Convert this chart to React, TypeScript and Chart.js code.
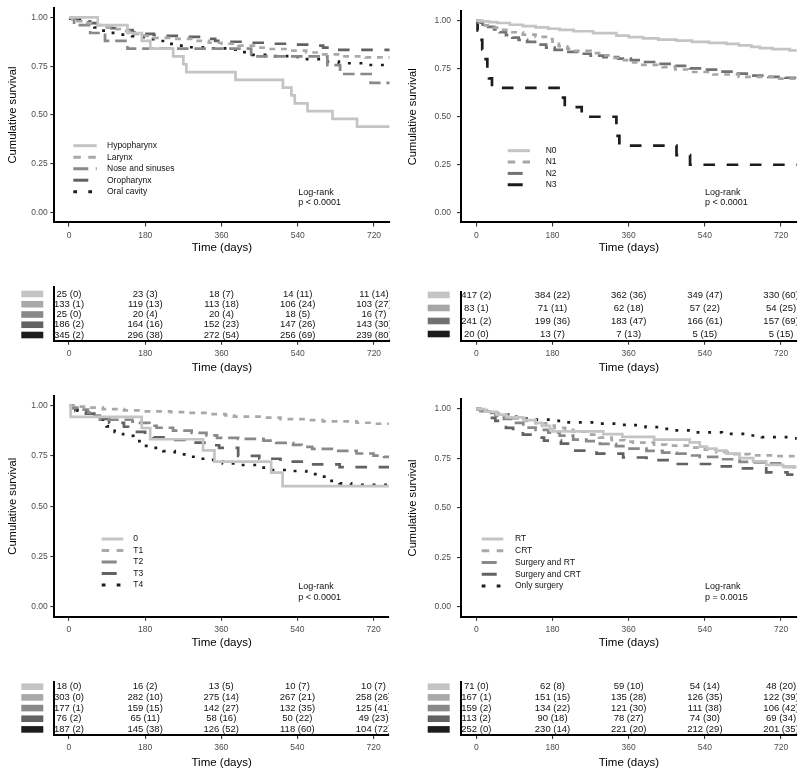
import React, { useEffect, useRef } from "react";
import { Chart, registerables } from "chart.js";
Chart.register(...registerables);

const FONT = '"Liberation Sans", Arial, Helvetica, sans-serif';
Chart.defaults.font.family = FONT;

// ---------- shared axes ----------
const timeTicks = [0, 180, 360, 540, 720];
const survivalTicks = [0, 0.25, 0.5, 0.75, 1];

// ---------- Panel 1: tumour site ----------
const siteLabels = ["Hypopharynx", "Larynx", "Nose and sinuses", "Oropharynx", "Oral cavity"];
const hypopharynx = [[0, 1], [68, 0.96], [138, 0.92], [172, 0.88], [192, 0.84], [246, 0.8], [270, 0.76], [277, 0.72], [393, 0.68], [505, 0.64], [525, 0.6], [533, 0.56], [563, 0.52], [622, 0.48], [680, 0.44], [770, 0.44]];
const larynx = [[0, 1], [8, 0.99], [20, 0.98], [40, 0.97], [60, 0.96], [80, 0.95], [100, 0.94], [120, 0.93], [150, 0.915], [175, 0.905], [200, 0.895], [250, 0.89], [300, 0.88], [330, 0.87], [360, 0.865], [400, 0.855], [440, 0.845], [470, 0.838], [520, 0.83], [560, 0.82], [600, 0.81], [640, 0.8], [700, 0.795], [770, 0.795]];
const noseSinuses = [[0, 1], [12, 0.96], [50, 0.92], [85, 0.88], [138, 0.84], [430, 0.8], [610, 0.755], [640, 0.71], [712, 0.665], [770, 0.665]];
const oropharynx = [[0, 1], [8, 0.995], [20, 0.99], [35, 0.98], [50, 0.97], [65, 0.96], [80, 0.95], [100, 0.945], [125, 0.935], [150, 0.925], [175, 0.915], [200, 0.91], [230, 0.905], [270, 0.9], [320, 0.89], [345, 0.88], [375, 0.875], [430, 0.87], [480, 0.865], [520, 0.86], [570, 0.855], [600, 0.845], [625, 0.833], [770, 0.833]];
const oralCavity = [[0, 1], [3, 0.995], [15, 0.988], [29, 0.979], [45, 0.965], [60, 0.948], [76, 0.932], [95, 0.921], [120, 0.912], [149, 0.904], [176, 0.889], [204, 0.879], [231, 0.864], [258, 0.855], [285, 0.847], [316, 0.841], [378, 0.835], [409, 0.822], [432, 0.808], [463, 0.802], [521, 0.797], [548, 0.786], [610, 0.773], [637, 0.765], [699, 0.756], [770, 0.756]];
const siteAtRisk = [[25, 23, 18, 14, 11], [133, 119, 113, 106, 103], [25, 20, 20, 18, 16], [186, 164, 152, 147, 143], [345, 296, 272, 256, 239]];
const siteEvents = [[0, 3, 7, 11, 14], [1, 13, 18, 24, 27], [0, 4, 4, 5, 7], [2, 16, 23, 26, 30], [2, 38, 54, 69, 80]];

// ---------- Panel 2: N stage ----------
const nLabels = ["N0", "N1", "N2", "N3"];
const n0 = [[0, 1], [15, 0.997], [30, 0.993], [50, 0.988], [79, 0.979], [110, 0.972], [140, 0.965], [170, 0.958], [197, 0.952], [230, 0.945], [276, 0.935], [331, 0.922], [360, 0.915], [394, 0.908], [430, 0.902], [473, 0.896], [510, 0.89], [550, 0.885], [591, 0.879], [620, 0.872], [650, 0.864], [670, 0.857], [700, 0.852], [740, 0.846], [770, 0.846]];
const n1 = [[0, 1], [8, 0.988], [20, 0.976], [40, 0.964], [60, 0.952], [85, 0.94], [110, 0.928], [140, 0.916], [170, 0.904], [180, 0.88], [195, 0.867], [215, 0.855], [229, 0.843], [270, 0.831], [300, 0.819], [320, 0.807], [345, 0.795], [365, 0.783], [385, 0.77], [440, 0.758], [470, 0.746], [500, 0.733], [560, 0.72], [620, 0.708], [700, 0.698], [770, 0.695]];
const n2 = [[0, 1], [5, 0.99], [15, 0.98], [28, 0.968], [42, 0.955], [55, 0.94], [70, 0.925], [85, 0.912], [100, 0.9], [120, 0.89], [145, 0.875], [165, 0.86], [185, 0.848], [210, 0.838], [240, 0.828], [270, 0.818], [300, 0.81], [335, 0.803], [365, 0.795], [395, 0.785], [430, 0.775], [470, 0.765], [505, 0.752], [540, 0.745], [575, 0.735], [610, 0.724], [645, 0.714], [690, 0.708], [730, 0.703], [770, 0.695]];
const n3 = [[0, 1], [3, 0.95], [6, 0.9], [14, 0.85], [18, 0.8], [26, 0.75], [30, 0.7], [37, 0.65], [205, 0.6], [209, 0.55], [249, 0.5], [331, 0.45], [334, 0.4], [338, 0.35], [473, 0.3], [505, 0.25], [770, 0.25]];
const nAtRisk = [[417, 384, 362, 349, 330], [83, 71, 62, 57, 54], [241, 199, 183, 166, 157], [20, 13, 7, 5, 5]];
const nEvents = [[2, 22, 36, 47, 60], [1, 11, 18, 22, 25], [2, 36, 47, 61, 69], [0, 7, 13, 15, 15]];

// ---------- Panel 3: T stage ----------
const tLabels = ["0", "T1", "T2", "T3", "T4"];
const t0 = [[0, 1], [4, 0.944], [172, 0.889], [192, 0.833], [317, 0.778], [344, 0.722], [478, 0.667], [505, 0.6], [770, 0.6]];
const t1 = [[0, 1], [15, 0.995], [40, 0.99], [80, 0.983], [130, 0.977], [175, 0.972], [240, 0.968], [280, 0.964], [330, 0.958], [370, 0.952], [390, 0.945], [460, 0.94], [500, 0.933], [560, 0.928], [600, 0.922], [680, 0.915], [720, 0.91], [770, 0.907]];
const t2 = [[0, 1], [10, 0.99], [25, 0.98], [45, 0.965], [60, 0.95], [73, 0.93], [150, 0.92], [168, 0.914], [190, 0.9], [207, 0.89], [246, 0.876], [290, 0.865], [325, 0.852], [350, 0.84], [400, 0.835], [460, 0.826], [490, 0.815], [530, 0.805], [550, 0.795], [575, 0.785], [630, 0.775], [680, 0.762], [720, 0.752], [745, 0.745], [770, 0.742]];
const t3 = [[0, 1], [5, 0.987], [15, 0.974], [40, 0.96], [60, 0.947], [80, 0.934], [95, 0.914], [130, 0.895], [140, 0.87], [180, 0.855], [200, 0.842], [235, 0.83], [290, 0.816], [320, 0.803], [355, 0.79], [400, 0.75], [450, 0.736], [500, 0.722], [570, 0.708], [640, 0.694], [770, 0.694]];
const t4 = [[0, 1], [5, 0.99], [20, 0.975], [42, 0.956], [58, 0.945], [73, 0.93], [89, 0.897], [108, 0.87], [128, 0.85], [152, 0.824], [171, 0.8], [199, 0.79], [223, 0.774], [250, 0.758], [278, 0.746], [305, 0.736], [333, 0.73], [364, 0.713], [392, 0.705], [447, 0.692], [470, 0.68], [530, 0.675], [561, 0.66], [588, 0.647], [616, 0.626], [640, 0.614], [667, 0.606], [770, 0.603]];
const tAtRisk = [[18, 16, 13, 10, 10], [303, 282, 275, 267, 258], [177, 159, 142, 132, 125], [76, 65, 58, 50, 49], [187, 145, 126, 118, 104]];
const tEvents = [[0, 2, 5, 7, 7], [0, 10, 14, 21, 26], [1, 15, 27, 35, 41], [2, 11, 16, 22, 23], [2, 38, 52, 60, 72]];

// ---------- Panel 4: treatment ----------
const txLabels = ["RT", "CRT", "Surgery and RT", "Surgery and CRT", "Only surgery"];
const rt = [[0, 1], [20, 0.986], [48, 0.972], [72, 0.958], [111, 0.944], [140, 0.93], [155, 0.915], [174, 0.9], [180, 0.887], [300, 0.873], [345, 0.859], [420, 0.845], [504, 0.831], [528, 0.81], [545, 0.8], [567, 0.79], [591, 0.775], [622, 0.752], [654, 0.735], [685, 0.718], [725, 0.708], [770, 0.705]];
const crt = [[0, 1], [10, 0.994], [25, 0.988], [45, 0.976], [65, 0.964], [90, 0.952], [115, 0.94], [140, 0.928], [165, 0.916], [185, 0.905], [210, 0.895], [229, 0.886], [260, 0.87], [290, 0.855], [320, 0.842], [350, 0.835], [370, 0.83], [420, 0.82], [449, 0.815], [500, 0.805], [540, 0.795], [567, 0.782], [610, 0.772], [646, 0.766], [700, 0.762], [770, 0.758]];
const surgeryRt = [[0, 1], [10, 0.99], [25, 0.98], [45, 0.965], [65, 0.95], [85, 0.93], [111, 0.906], [140, 0.895], [170, 0.88], [197, 0.865], [229, 0.845], [260, 0.838], [292, 0.824], [330, 0.812], [355, 0.8], [402, 0.788], [440, 0.78], [473, 0.774], [500, 0.765], [528, 0.758], [575, 0.746], [622, 0.733], [654, 0.73], [685, 0.725], [725, 0.708], [750, 0.69], [770, 0.685]];
const surgeryCrt = [[0, 1], [10, 0.99], [20, 0.975], [32, 0.955], [45, 0.94], [56, 0.93], [70, 0.905], [87, 0.885], [110, 0.87], [135, 0.855], [160, 0.84], [200, 0.825], [229, 0.79], [284, 0.774], [347, 0.755], [402, 0.742], [465, 0.722], [575, 0.71], [630, 0.7], [685, 0.68], [735, 0.668], [770, 0.665]];
const onlySurgery = [[0, 1], [10, 0.996], [25, 0.988], [40, 0.98], [55, 0.972], [75, 0.96], [95, 0.952], [140, 0.946], [175, 0.94], [205, 0.932], [280, 0.926], [330, 0.92], [355, 0.918], [400, 0.908], [440, 0.9], [465, 0.892], [520, 0.882], [580, 0.874], [630, 0.866], [675, 0.858], [740, 0.852], [770, 0.852]];
const txAtRisk = [[71, 62, 59, 54, 48], [167, 151, 135, 126, 122], [159, 134, 121, 111, 106], [113, 90, 78, 74, 69], [252, 230, 221, 212, 201]];
const txEvents = [[0, 8, 10, 14, 20], [1, 15, 28, 35, 39], [2, 22, 30, 38, 42], [2, 18, 27, 30, 34], [0, 14, 20, 29, 35]];

// ---------- styles ----------
const grey5 = ["#c4c4c4", "#a9a9a9", "#898989", "#626262", "#1c1c1c"];
const grey4 = ["#c4c4c4", "#a6a6a6", "#727272", "#1c1c1c"];
const types5 = ["solid", "22", "42", "44", "13"];
const types4 = ["solid", "22", "42", "44"];

function dash(type: string, unit: number): number[] {
  if (type === "solid") return [];
  return type.split("").map((c) => Number(c) * unit);
}

type Pt = number[];
interface PanelCfg {
  left: number;
  labels: string[];
  series: Pt[][];
  atRisk: number[][];
  events: number[][];
  pText: string;
  colors: string[];
  types: string[];
  yAxisWidth: number;
  padRight: number;
  xMin: number;
  xMax: number;
  yTickPad: number;
  km: { top: number; height: number; padTop: number; xAxisHeight: number; titlePad: number };
  risk: { top: number; height: number; padTop: number; xAxisHeight: number; titlePad: number; yMin: number; yMax: number };
  legend: { x: number; len: number; textX: number; y0: number; dy: number };
  logRank: { x: number; y0: number; dy: number };
  swatchX: number;
}

const topKm = { top: 0, height: 262, padTop: 0.6, xAxisHeight: 39.6, titlePad: 6.8 };
const bottomKm = { top: 388, height: 268, padTop: 6.2, xAxisHeight: 39.2, titlePad: 6.6 };

const panels: PanelCfg[] = [
  {
    left: 0, labels: siteLabels, series: [hypopharynx, larynx, noseSinuses, oropharynx, oralCavity],
    atRisk: siteAtRisk, events: siteEvents, pText: "p < 0.0001", colors: grey5, types: types5,
    yAxisWidth: 54.3, padRight: 10.5, xMin: -34.7, xMax: 756.6, yTickPad: 2.5,
    km: topKm,
    risk: { top: 262, height: 118, padTop: 24.7, xAxisHeight: 39.3, titlePad: 5.1, yMin: 0.444, yMax: 5.71 },
    legend: { x: 73.3, len: 23.4, textX: 107, y0: 145.7, dy: 11.5 },
    logRank: { x: 298.3, y0: 192.7, dy: 9.8 },
    swatchX: 21.3,
  },
  {
    left: 400, labels: nLabels, series: [n0, n1, n2, n3],
    atRisk: nAtRisk, events: nEvents, pText: "p < 0.0001", colors: grey4, types: types4,
    yAxisWidth: 61, padRight: 3.3, xMin: -36.2, xMax: 757, yTickPad: 6,
    km: topKm,
    risk: { top: 262, height: 118, padTop: 29.7, xAxisHeight: 39.3, titlePad: 5.1, yMin: 0.485, yMax: 4.25 },
    legend: { x: 107.7, len: 22.3, textX: 145.7, y0: 150.7, dy: 11.35 },
    logRank: { x: 305, y0: 192.7, dy: 9.8 },
    swatchX: 27.7,
  },
  {
    left: 0, labels: tLabels, series: [t0, t1, t2, t3, t4],
    atRisk: tAtRisk, events: tEvents, pText: "p < 0.0001", colors: grey5, types: types5,
    yAxisWidth: 54.3, padRight: 11, xMin: -34.7, xMax: 756.6, yTickPad: 2.5,
    km: bottomKm,
    risk: { top: 656, height: 117, padTop: 25.7, xAxisHeight: 38, titlePad: 2.8, yMin: 0.475, yMax: 5.47 },
    legend: { x: 101.7, len: 21.6, textX: 133.3, y0: 151, dy: 11.5 },
    logRank: { x: 298.3, y0: 198.7, dy: 10.6 },
    swatchX: 21.3,
  },
  {
    left: 400, labels: txLabels, series: [rt, crt, surgeryRt, surgeryCrt, onlySurgery],
    atRisk: txAtRisk, events: txEvents, pText: "p = 0.0015", colors: grey5, types: types5,
    yAxisWidth: 61, padRight: 3.3, xMin: -36.2, xMax: 757, yTickPad: 6,
    km: bottomKm,
    risk: { top: 656, height: 117, padTop: 25.7, xAxisHeight: 38, titlePad: 2.8, yMin: 0.475, yMax: 5.47 },
    legend: { x: 81.7, len: 21.6, textX: 115, y0: 151, dy: 11.75 },
    logRank: { x: 305, y0: 198.7, dy: 10.6 },
    swatchX: 27.7,
  },
];

function xScale(p: PanelCfg, height: number, titlePad: number): any {
  return {
    type: "linear",
    min: p.xMin,
    max: p.xMax,
    afterBuildTicks: (s: any) => {
      s.ticks = timeTicks.map((value) => ({ value }));
    },
    afterFit: (s: any) => {
      s.height = height;
    },
    ticks: { font: { size: 8.5 }, color: "#4d4d4d", padding: 3.8, maxRotation: 0, autoSkip: false },
    grid: { display: true, drawOnChartArea: false, drawTicks: true, tickLength: 4, color: "#333", lineWidth: 1.1 },
    border: { display: true, color: "#000", width: 2 },
    title: { display: true, text: "Time (days)", color: "#000", font: { size: 11.5 }, padding: { top: 0, bottom: titlePad } },
  };
}

function kmDecor(p: PanelCfg) {
  return {
    id: "kmDecor",
    afterDraw(chart: any) {
      const ctx = chart.ctx as CanvasRenderingContext2D;
      const L = p.legend;
      ctx.save();
      p.labels.forEach((lab, i) => {
        const y = L.y0 + i * L.dy;
        ctx.beginPath();
        ctx.setLineDash(dash(p.types[i], 3.75));
        ctx.lineWidth = 3;
        ctx.lineCap = "butt";
        ctx.strokeStyle = p.colors[i];
        ctx.moveTo(L.x, y);
        ctx.lineTo(L.x + L.len, y);
        ctx.stroke();
        ctx.setLineDash([]);
        ctx.fillStyle = "#111";
        ctx.font = `8.5px ${FONT}`;
        ctx.textAlign = "left";
        ctx.textBaseline = "middle";
        ctx.fillText(lab, L.textX, y);
      });
      ctx.font = `9px ${FONT}`;
      ctx.fillStyle = "#111";
      ctx.fillText("Log-rank", p.logRank.x, p.logRank.y0);
      ctx.fillText(p.pText, p.logRank.x, p.logRank.y0 + p.logRank.dy);
      ctx.restore();
    },
  };
}

function makeKM(canvas: HTMLCanvasElement, p: PanelCfg) {
  return new Chart(canvas, {
    type: "line",
    data: {
      datasets: p.series.map((s, i) => ({
        label: p.labels[i],
        data: s.map(([x, y]) => ({ x, y })),
        stepped: true,
        borderColor: p.colors[i],
        backgroundColor: p.colors[i],
        borderWidth: 2.7,
        borderDash: dash(p.types[i], 2.9),
        pointRadius: 0,
        pointHoverRadius: 0,
        fill: false,
        clip: 0,
      })),
    },
    options: {
      animation: false,
      responsive: false,
      events: [],
      layout: { padding: { top: p.km.padTop, right: p.padRight, left: 0, bottom: 0 } },
      plugins: { legend: { display: false }, tooltip: { enabled: false } },
      scales: {
        x: xScale(p, p.km.xAxisHeight, p.km.titlePad),
        y: {
          type: "linear",
          min: -0.05,
          max: 1.05,
          afterBuildTicks: (s: any) => {
            s.ticks = survivalTicks.map((value) => ({ value }));
          },
          afterFit: (s: any) => {
            s.width = p.yAxisWidth;
          },
          ticks: {
            font: { size: 8.5 },
            color: "#4d4d4d",
            padding: p.yTickPad,
            callback: (v: any) => Number(v).toFixed(2),
          },
          grid: { display: true, drawOnChartArea: false, drawTicks: true, tickLength: 4, color: "#333", lineWidth: 1.1 },
          border: { display: true, color: "#000", width: 2 },
          title: { display: true, text: "Cumulative survival", color: "#000", font: { size: 11.2 }, padding: { top: 6, bottom: 0 } },
        },
      },
    } as any,
    plugins: [kmDecor(p)],
  });
}

function riskText(p: PanelCfg) {
  return {
    id: "riskText",
    afterDatasetsDraw(chart: any) {
      const ctx = chart.ctx as CanvasRenderingContext2D;
      const a = chart.chartArea;
      ctx.save();
      ctx.beginPath();
      ctx.rect(a.left, a.top - 12, a.right - a.left, a.bottom - a.top + 24);
      ctx.clip();
      ctx.font = `9.5px ${FONT}`;
      ctx.fillStyle = "#111";
      ctx.textAlign = "center";
      ctx.textBaseline = "middle";
      chart.data.datasets.forEach((_: any, i: number) => {
        const meta = chart.getDatasetMeta(i);
        meta.data.forEach((el: any, j: number) => {
          ctx.fillText(`${p.atRisk[i][j]} (${p.events[i][j]})`, el.x, el.y);
        });
      });
      ctx.restore();
      ctx.save();
      chart.data.datasets.forEach((_: any, i: number) => {
        const el = chart.getDatasetMeta(i).data[0];
        ctx.fillStyle = p.colors[i];
        ctx.fillRect(p.swatchX, el.y - 3.3, 22, 6.6);
      });
      ctx.restore();
    },
  };
}

function makeRisk(canvas: HTMLCanvasElement, p: PanelCfg) {
  const n = p.labels.length;
  return new Chart(canvas, {
    type: "scatter",
    data: {
      datasets: p.atRisk.map((_, i) => ({
        label: p.labels[i],
        data: timeTicks.map((t) => ({ x: t, y: n - i })),
        pointRadius: 0,
        pointHoverRadius: 0,
        showLine: false,
        backgroundColor: p.colors[i],
        borderColor: p.colors[i],
      })),
    },
    options: {
      animation: false,
      responsive: false,
      events: [],
      layout: { padding: { top: p.risk.padTop, right: p.padRight, left: 0, bottom: 0 } },
      plugins: { legend: { display: false }, tooltip: { enabled: false } },
      scales: {
        x: xScale(p, p.risk.xAxisHeight, p.risk.titlePad),
        y: {
          type: "linear",
          min: p.risk.yMin,
          max: p.risk.yMax,
          afterFit: (s: any) => {
            s.width = p.yAxisWidth;
          },
          ticks: { display: false },
          grid: { display: false },
          border: { display: true, color: "#000", width: 2 },
        },
      },
    } as any,
    plugins: [riskText(p)],
  });
}

function Panel({ p }: { p: PanelCfg }) {
  const kmRef = useRef<HTMLCanvasElement>(null);
  const riskRef = useRef<HTMLCanvasElement>(null);
  useEffect(() => {
    const a = makeKM(kmRef.current!, p);
    const b = makeRisk(riskRef.current!, p);
    return () => {
      a.destroy();
      b.destroy();
    };
  }, [p]);
  return (
    <>
      <canvas
        ref={kmRef}
        width={400}
        height={p.km.height}
        style={{ position: "absolute", left: p.left, top: p.km.top, width: 400, height: p.km.height }}
      />
      <canvas
        ref={riskRef}
        width={400}
        height={p.risk.height}
        style={{ position: "absolute", left: p.left, top: p.risk.top, width: 400, height: p.risk.height }}
      />
    </>
  );
}

export default function App() {
  return (
    <div style={{ position: "absolute", left: 0, top: 0, width: 800, height: 773, background: "#fff", overflow: "hidden" }}>
      {panels.map((p, i) => (
        <Panel key={i} p={p} />
      ))}
    </div>
  );
}
